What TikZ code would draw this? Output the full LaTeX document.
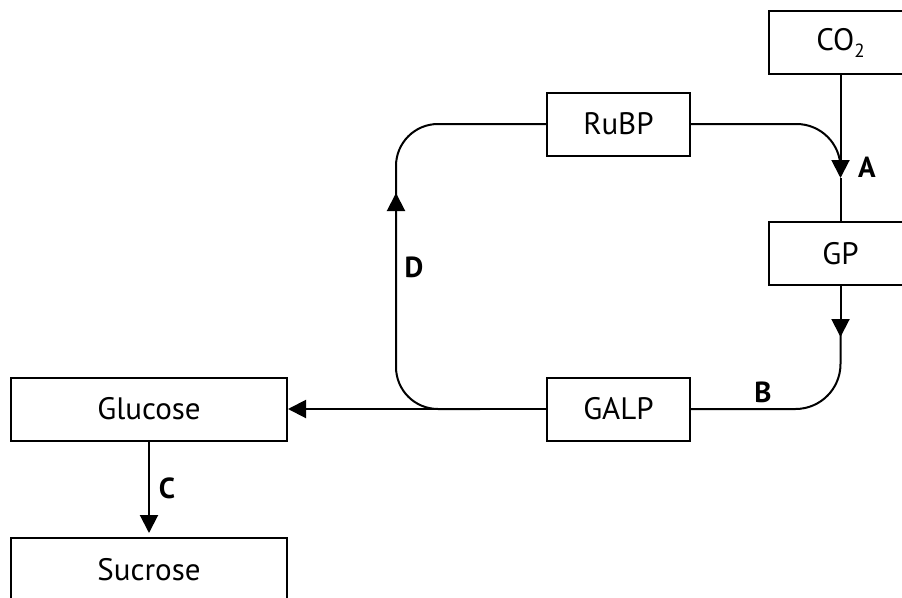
\documentclass[tikz,border=0pt]{standalone}
\usepackage{fontspec}
\setmainfont{PT Sans}
\usetikzlibrary{arrows.meta}
\begin{document}
\begin{tikzpicture}[x=1pt,y=-1pt,
  box/.style={draw, line width=2pt, minimum width=143pt, minimum height=63pt, inner sep=0pt, font=\fontsize{31}{36}\selectfont},
  widebox/.style={box, minimum width=276pt},
  conn/.style={line width=2pt},
  arr/.style={conn, -{Triangle[length=18pt,width=18pt]}},
  lbl/.style={font=\fontsize{29}{34}\selectfont\bfseries, inner sep=0pt}]
\useasboundingbox (0,0) rectangle (902,597);
\node[box] (co2) at (840.5,42.5) {CO\raisebox{-0.45ex}{\fontsize{19}{20}\selectfont 2}};
\node[box] (gp) at (840.5,253.5) {GP};
\node[box] (rubp) at (618.5,124) {RuBP};
\node[box] (galp) at (618.5,409) {GALP};
\node[widebox] (glu) at (149,409) {Glucose};
\node[widebox, minimum height=64pt] (suc) at (149,570) {Sucrose};
\coordinate (atip) at (840.5,178);
\coordinate (btip) at (840.5,337);
\coordinate (dtip) at (396,193);
\coordinate (dbend) at (480,409);
\coordinate (bstart) at (840.5,330);
\coordinate (dstart) at (396,205);
\coordinate (ajoin) at (840.5,168);
% A
\draw[arr] (co2.south) -- (atip);
\draw[conn] (atip) -- (gp.north);
\draw[conn, rounded corners=44pt] (rubp.east) -| (ajoin);
% B
\draw[arr] (gp.south) -- (btip);
\draw[conn, rounded corners=45pt] (bstart) |- (galp.east);
% to glucose
\draw[arr] (galp.west) -- (glu.east);
% D
\draw[arr, rounded corners=42pt] (dbend) -| (dtip);
\draw[conn, rounded corners=42pt] (dstart) |- (rubp.west);
% C
\draw[arr, shorten >=4pt] (glu.south) -- (suc.north);
\node[lbl] (la) at (867,167) {A};
\node[lbl] (lb) at (763,392) {B};
\node[lbl] (lc) at (167,488) {C};
\node[lbl] (ld) at (414,267) {D};
\end{tikzpicture}
\end{document}
